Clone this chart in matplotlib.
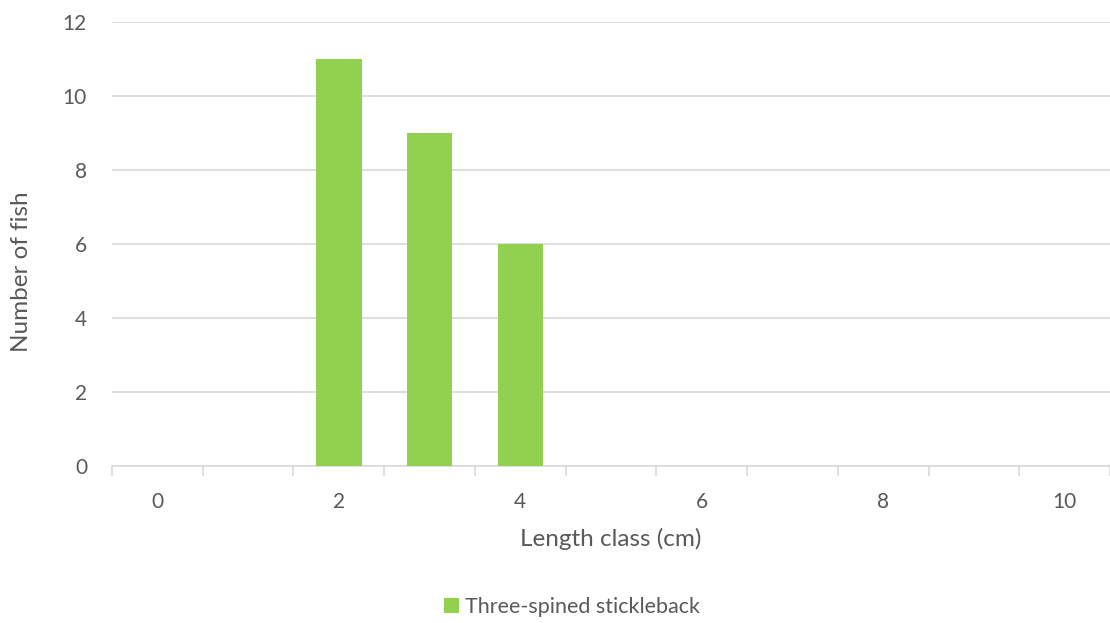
import matplotlib
matplotlib.use("Agg")
import matplotlib.pyplot as plt
from matplotlib.patches import Patch

categories = [0, 1, 2, 3, 4, 5, 6, 7, 8, 9, 10]
tick_labels = ["0", "", "2", "", "4", "", "6", "", "8", "", "10"]
counts = [0, 0, 11, 9, 6, 0, 0, 0, 0, 0, 0]
series_name = "Three-spined stickleback"

plt.rcParams['font.family'] = ['Lato', 'DejaVu Sans']
txt = '#595959'
grid = '#d9d9d9'
green = '#92d050'

fig = plt.figure(figsize=(11.10, 6.23), dpi=100)
ax = fig.add_axes([112/1110, 157/623, 998/1110, 444/623])

ax.bar(categories, counts, width=0.5, color=green, zorder=3)
ax.set_xlim(-0.5, 10.5)
ax.set_ylim(0, 12)
ax.set_yticks(range(0, 13, 2))
ax.set_xticks(categories)
ax.set_xticklabels(tick_labels)
ax.set_xticks([c + 0.5 for c in [-1] + categories], minor=True)

for s in ['top', 'right', 'left']:
    ax.spines[s].set_visible(False)
ax.spines['bottom'].set_color(grid)
ax.spines['bottom'].set_linewidth(1.2)
ax.yaxis.grid(True, color=grid, linewidth=1.2, zorder=0)
ax.tick_params(axis='y', length=0, pad=18, labelsize=15, labelcolor=txt)
ax.tick_params(axis='x', which='major', length=0, pad=19, labelsize=15, labelcolor=txt)
ax.tick_params(axis='x', which='minor', length=7, width=1.2, color=grid, direction='out')

ax.set_xlabel("Length class (cm)", fontsize=17.5, color=txt, labelpad=11)
fig.text(22/1110, 1 - 272/623, "Number of fish", rotation=90, fontsize=17.5, color=txt,
         ha='center', va='center')

handles = [Patch(facecolor=green, label=series_name)]
fig.legend(handles=handles, loc='center', bbox_to_anchor=(572/1110, 1 - 607/623),
           frameon=False, fontsize=15.5, labelcolor=txt, handlelength=0.7, handleheight=0.7,
           handletextpad=0.3)

fig.savefig("out.png", dpi=100)
